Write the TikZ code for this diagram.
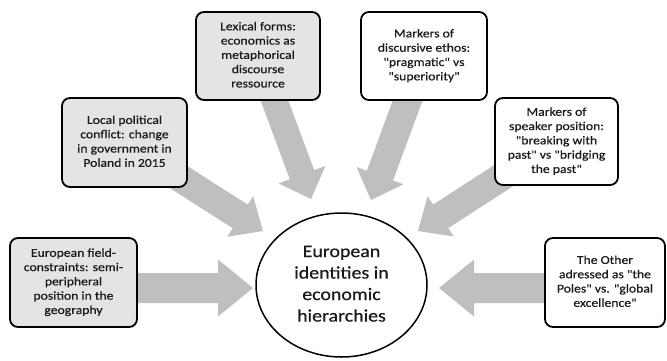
\documentclass[tikz,border=0pt]{standalone}
\usepackage{fontspec}
\setmainfont{Carlito}[Ligatures=TeXOff, FakeBold=0.5]
\usepackage{graphicx}
\usetikzlibrary{calc,shapes.geometric,backgrounds}
\definecolor{arrowgray}{HTML}{BFBFBF}
\definecolor{boxgray}{HTML}{E4E4E4}
\definecolor{txtcol}{HTML}{1A1A1A}
\newcommand\boxtext[1]{\fontsize{12}{14.3}\selectfont\scalebox{1.14}[1]{\begin{tabular}{@{}c@{}}#1\end{tabular}}}
\newcommand\bigtext[1]{\fontsize{17.6}{21.5}\selectfont\scalebox{1.13}[1]{\begin{tabular}{@{}c@{}}#1\end{tabular}}}
% start, tip, shaft half width, head half width, head length
\newcommand\myblockarrow[5]{%
  \path ($(#2)!#5!(#1)$) coordinate (tmpB);
  \fill[arrowgray] ($(#1)!#3!90:(#2)$) -- ($(tmpB)!#3!90:(#2)$) -- ($(tmpB)!#4!90:(#2)$) -- (#2)
    -- ($(tmpB)!#4!-90:(#2)$) -- ($(tmpB)!#3!-90:(#2)$) -- ($(#1)!#3!-90:(#2)$) -- cycle;
}
\tikzset{
  infobox/.style={draw=black, line width=1.8pt, rounded corners=8pt, inner sep=0pt, text=txtcol},
  graybox/.style={infobox, fill=boxgray},
  whitebox/.style={infobox, fill=white},
  centre/.style={ellipse, draw=black, line width=1.5pt, fill=white, inner sep=0pt, text=txtcol,
    minimum width=171pt, minimum height=144pt},
}
\begin{document}
\begin{tikzpicture}[x=1pt,y=-1pt]
\useasboundingbox (0,0) rectangle (667,360);

\node[centre] (core) at (341.5,285) {\bigtext{European\\identities in\\economic\\hierarchies}};

\node[graybox, minimum width=124pt, minimum height=88pt] (lex) at (258,56)
  {\boxtext{Lexical forms:\\economics as\\metaphorical\\discourse\\ressource}};
\node[whitebox, minimum width=126pt, minimum height=88pt] (ethos) at (424,56)
  {\boxtext{Markers of\\discursive ethos:\\"pragmatic" vs\\"superiority"}};
\node[graybox, minimum width=125pt, minimum height=89pt] (local) at (124.5,142.5)
  {\boxtext{Local political\\conflict: change\\in government in\\Poland in 2015}};
\node[whitebox, minimum width=123pt, minimum height=87pt] (speaker) at (556.5,141.5)
  {\boxtext{Markers of\\speaker position:\\"breaking with\\past" vs "bridging\\the past"}};
\node[graybox, minimum width=127pt, minimum height=89pt] (field) at (73.5,282.5)
  {\boxtext{European field-\\constraints: semi-\\peripheral\\position in the\\geography}};
\node[whitebox, minimum width=120pt, minimum height=89pt] (other) at (605,282.5)
  {\boxtext{The Other\\adressed as "the\\Poles" vs. "global\\excellence"}};

\coordinate (tipLex) at (311,199);
\coordinate (tipEthos) at (371,200);
\coordinate (tipLocal) at (263,231);
\coordinate (tipSpeaker) at (418,231);
\coordinate (tipField) at (253,288);
\coordinate (tipOther) at (439,288);
\coordinate (startField) at (100,288);
\coordinate (startOther) at (580,288);

\begin{scope}[on background layer]
\fill[white] (0,0) rectangle (667,360);
\myblockarrow{lex.center}{tipLex}{13pt}{25pt}{26pt}
\myblockarrow{ethos.center}{tipEthos}{14pt}{25pt}{26pt}
\myblockarrow{local.center}{tipLocal}{14pt}{24pt}{27pt}
\myblockarrow{speaker.center}{tipSpeaker}{14pt}{24pt}{27pt}
\myblockarrow{startField}{tipField}{15pt}{28.5pt}{35pt}
\myblockarrow{startOther}{tipOther}{15pt}{28.5pt}{35pt}
\end{scope}
\end{tikzpicture}
\end{document}
